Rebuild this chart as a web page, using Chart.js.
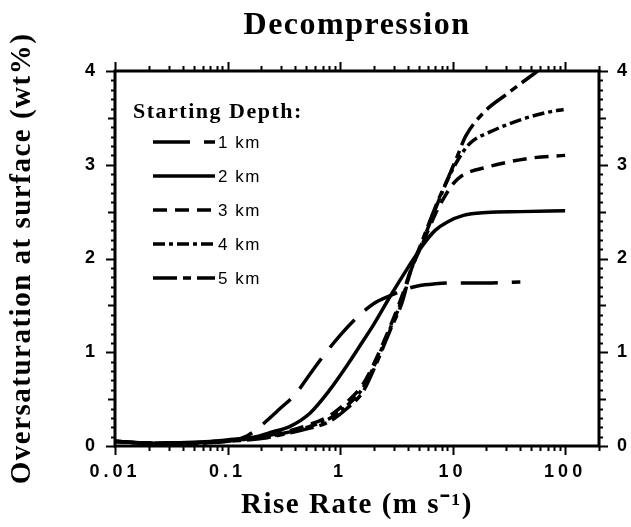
<!DOCTYPE html>
<html>
<head>
<meta charset="utf-8">
<script src="https://cdn.jsdelivr.net/npm/chart.js@4.4.1/dist/chart.umd.min.js"></script>
<style>
  html, body { margin: 0; padding: 0; background: #fff; }
</style>
</head>
<body>
<canvas id="chart" width="631" height="527"></canvas>
<script>
// rise rate (m/s) -> oversaturation at surface (wt%)
const km1X = [0.01, 0.02, 0.05, 0.1, 0.15, 0.2, 0.3, 0.4, 0.5, 0.7, 1, 1.5, 2, 3, 4, 5, 7, 10, 20, 40];
const km1Y = [0.05, 0.03, 0.035, 0.05, 0.11, 0.22, 0.41, 0.55, 0.71, 0.95, 1.18, 1.4, 1.52, 1.62, 1.68, 1.71, 1.73, 1.74, 1.74, 1.75];

const km2X = [0.01, 0.02, 0.05, 0.1, 0.18, 0.25, 0.36, 0.54, 0.8, 1.2, 1.6, 2, 2.8, 4, 5.5, 7, 9, 12.5, 20, 40, 100];
const km2Y = [0.05, 0.03, 0.04, 0.065, 0.1, 0.15, 0.21, 0.35, 0.59, 0.89, 1.12, 1.3, 1.6, 1.9, 2.15, 2.3, 2.39, 2.46, 2.49, 2.5, 2.51];

const km3X = [0.01, 0.02, 0.05, 0.1, 0.2, 0.3, 0.54, 0.8, 1.15, 1.6, 2, 2.8, 3.6, 4.2, 5.5, 7, 8.5, 10, 12, 21, 49, 100];
const km3Y = [0.05, 0.03, 0.035, 0.06, 0.1, 0.14, 0.23, 0.32, 0.47, 0.66, 0.88, 1.28, 1.62, 1.86, 2.18, 2.47, 2.66, 2.79, 2.88, 2.98, 3.07, 3.1];

const km4X = [0.01, 0.02, 0.05, 0.1, 0.2, 0.3, 0.54, 0.8, 1.15, 1.6, 2, 2.8, 3.6, 4.2, 5.5, 7.2, 9.2, 11, 14.3, 21.5, 42.7, 70, 97];
const km4Y = [0.05, 0.03, 0.03, 0.055, 0.09, 0.13, 0.21, 0.29, 0.43, 0.62, 0.85, 1.26, 1.58, 1.85, 2.2, 2.56, 2.86, 3.04, 3.23, 3.35, 3.49, 3.56, 3.59];

const km5X = [0.01, 0.02, 0.05, 0.1, 0.2, 0.3, 0.54, 0.8, 1.15, 1.6, 2, 2.8, 3.6, 4.2, 5.5, 7.2, 9.2, 11, 13, 19, 30, 57];
const km5Y = [0.05, 0.03, 0.03, 0.05, 0.08, 0.12, 0.19, 0.26, 0.4, 0.58, 0.82, 1.24, 1.55, 1.85, 2.22, 2.58, 2.87, 3.09, 3.3, 3.56, 3.75, 4.0];

const depthLabels = ['1 km', '2 km', '3 km', '4 km', '5 km'];
const xTicks = [0.01, 0.1, 1, 10, 100];
const xTickLabels = ['0.01', '0.1', '1', '10', '100'];
const yTicks = [0, 1, 2, 3, 4];

function pts(xs, ys) {
  return xs.map((x, i) => ({ x: x, y: ys[i] }));
}

const dashes = [[37, 14], [], [14, 8], [12, 4, 4, 4], [24, 6, 8, 6]];
const series = [[km1X, km1Y], [km2X, km2Y], [km3X, km3Y], [km4X, km4Y], [km5X, km5Y]];

const datasets = series.map((s, i) => ({
  label: depthLabels[i],
  data: pts(s[0], s[1]),
  borderColor: '#000',
  borderWidth: 3.5,
  borderDash: dashes[i],
  borderCapStyle: 'butt',
  pointRadius: 0,
  fill: false,
  cubicInterpolationMode: 'monotone'
}));

// letter spacing: titles a bit, tick numbers wide
const spacing = {
  id: 'spacing',
  beforeDraw(chart) { chart.ctx.letterSpacing = '1.5px'; },
  afterDatasetsDraw(chart) { chart.ctx.letterSpacing = '4px'; },
  afterDraw(chart) { chart.ctx.letterSpacing = '0px'; }
};

// box, minor ticks on all four sides, and the legend inside the plot
const frame = {
  id: 'frame',
  afterDraw(chart) {
    const ctx = chart.ctx;
    const { left, right, top, bottom } = chart.chartArea;
    const x = chart.scales.x, y = chart.scales.y;
    ctx.save();
    ctx.letterSpacing = '0px';
    ctx.strokeStyle = '#000';
    ctx.lineWidth = 2;
    ctx.beginPath();
    xTicks.forEach(d => {
      for (let m = 1; m <= 9; m++) {
        const v = d * m;
        if (v > x.max) break;
        const px = Math.round(x.getPixelForValue(v)) + 0.5;
        const len = m === 1 ? 9 : 5;
        ctx.moveTo(px, bottom); ctx.lineTo(px, bottom + len);
        ctx.moveTo(px, top); ctx.lineTo(px, top - len);
      }
    });
    for (let i = 0; i <= 40; i++) {
      const py = Math.round(y.getPixelForValue(i / 10)) + 0.5;
      const len = i % 10 === 0 ? 9 : (i % 5 === 0 ? 7 : 4);
      ctx.moveTo(left, py); ctx.lineTo(left - len, py);
      ctx.moveTo(right, py); ctx.lineTo(right + len, py);
    }
    ctx.stroke();
    ctx.lineWidth = 3;
    ctx.strokeRect(left, top, right - left, bottom - top);

    // legend
    ctx.fillStyle = '#000';
    ctx.font = 'bold 22px "Liberation Serif"';
    ctx.letterSpacing = '1.5px';
    ctx.textBaseline = 'alphabetic';
    ctx.fillText('Starting Depth:', left + 18, top + 47);
    ctx.font = '17px "Liberation Sans"';
    ctx.textBaseline = 'middle';
    chart.data.datasets.forEach((ds, i) => {
      const ly = top + 71 + i * 34;
      ctx.lineWidth = ds.borderWidth;
      ctx.setLineDash(ds.borderDash);
      ctx.beginPath();
      ctx.moveTo(left + 38, ly);
      ctx.lineTo(left + 100, ly);
      ctx.stroke();
      ctx.setLineDash([]);
      ctx.fillText(ds.label, left + 103, ly + 1);
    });
    ctx.restore();
  }
};

const tickFont = { family: 'Liberation Sans', size: 18, weight: 'bold' };
const axisTitleFont = { family: 'Liberation Serif', size: 29, weight: 'bold' };
const noGrid = { display: false, drawTicks: false };

new Chart(document.getElementById('chart'), {
  type: 'line',
  data: { datasets: datasets },
  options: {
    responsive: false,
    animation: false,
    devicePixelRatio: 1,
    layout: { padding: 0 },
    plugins: {
      legend: { display: false },
      tooltip: { enabled: false },
      title: {
        display: true,
        text: 'Decompression',
        color: '#000',
        fullSize: false,
        font: { family: 'Liberation Serif', size: 32, weight: 'bold' },
        padding: { top: 7, bottom: 25.6 }
      }
    },
    scales: {
      x: {
        type: 'logarithmic',
        position: 'bottom',
        min: 0.01,
        max: 200,
        grid: noGrid,
        border: { display: false },
        afterBuildTicks: s => { s.ticks = xTicks.map(v => ({ value: v })); },
        afterFit: s => { s.height = 81; },
        ticks: {
          callback: (v, i) => xTickLabels[i],
          color: '#000',
          font: tickFont,
          padding: 15,
          maxRotation: 0,
          autoSkip: false,
          z: 1
        },
        title: {
          display: true,
          text: 'Rise Rate (m s⁻¹)',
          color: '#000',
          font: axisTitleFont,
          padding: { top: 0, bottom: 4 }
        }
      },
      y: {
        type: 'linear',
        position: 'left',
        min: 0,
        max: 4,
        grid: noGrid,
        border: { display: false },
        afterBuildTicks: s => { s.ticks = yTicks.map(v => ({ value: v })); },
        afterFit: s => { s.width = 115; },
        ticks: { color: '#000', font: tickFont, padding: 16, z: 1 },
        title: {
          display: true,
          text: 'Oversaturation at surface (wt%)',
          color: '#000',
          font: axisTitleFont,
          padding: { top: 5, bottom: 0 }
        }
      },
      y2: {
        type: 'linear',
        position: 'right',
        min: 0,
        max: 4,
        grid: noGrid,
        border: { display: false },
        afterBuildTicks: s => { s.ticks = yTicks.map(v => ({ value: v })); },
        afterFit: s => { s.width = 32; },
        ticks: { color: '#000', font: tickFont, padding: 18, z: 1 }
      }
    }
  },
  plugins: [spacing, frame]
});
</script>
</body>
</html>
